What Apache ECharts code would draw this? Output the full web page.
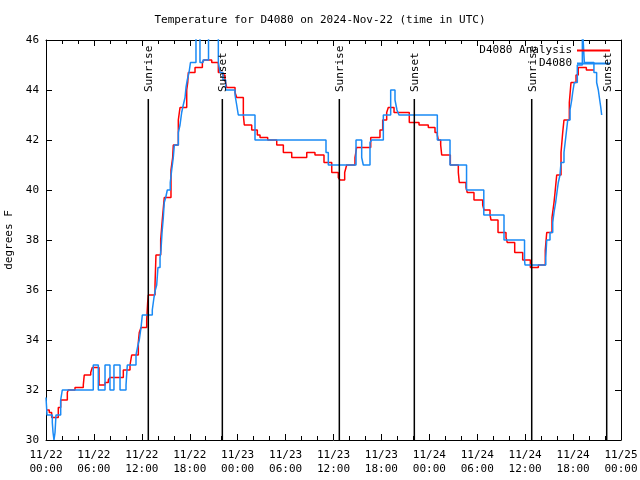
<!DOCTYPE html>
<html>
<head>
<meta charset="utf-8">
<script src="https://cdn.jsdelivr.net/npm/echarts@6/dist/echarts.min.js"></script>
<style>html,body{margin:0;padding:0;background:#fff}#c{width:640px;height:480px}</style>
</head>
<body>
<div id="c"></div>
<script>
// Hours since 2024-11-22 00:00 UTC
const xTickLabels = ['11/22\n00:00','11/22\n06:00','11/22\n12:00','11/22\n18:00','11/23\n00:00','11/23\n06:00','11/23\n12:00','11/23\n18:00','11/24\n00:00','11/24\n06:00','11/24\n12:00','11/24\n18:00','11/25\n00:00'];

const analysisHours = [0.00,0.41,0.71,1.54,1.84,2.67,2.79,3.63,4.67,4.79,5.60,5.80,6.64,7.39,7.80,8.01,9.68,10.52,10.73,11.56,11.68,11.90,12.61,12.73,12.81,13.65,13.77,14.36,14.56,14.81,15.65,15.86,15.94,16.57,16.78,17.62,17.75,17.82,18.66,19.58,19.79,20.75,21.58,22.13,22.41,22.63,23.67,23.88,24.71,24.83,25.76,26.46,26.80,27.76,28.89,29.72,30.77,31.81,32.65,33.68,34.81,35.78,36.60,36.81,37.40,37.65,38.69,38.90,40.66,41.82,42.16,42.66,42.86,43.58,45.49,46.71,47.87,48.71,49.00,49.12,49.42,49.55,50.63,51.63,51.75,52.59,52.75,53.59,54.68,54.85,55.60,55.72,56.60,57.60,57.76,58.69,59.69,60.65,61.65,62.52,62.70,63.36,63.61,63.74,63.95,64.49,64.70,64.86,65.53,65.74,66.37,66.65,67.66,68.62];
const analysisTemps = [31.2,31.1,30.9,31.3,31.6,31.9,32.0,32.1,32.2,32.6,32.7,32.9,32.2,32.3,32.4,32.5,32.8,33.0,33.4,33.9,34.3,34.5,34.8,35.5,35.8,36.2,37.4,38.0,38.8,39.7,40.8,41.3,41.8,42.8,43.3,44.0,44.3,44.7,44.9,45.1,45.2,45.1,44.7,44.6,44.4,44.1,43.9,43.7,43.0,42.6,42.4,42.2,42.1,42.0,41.8,41.5,41.3,41.3,41.5,41.4,41.1,40.7,40.5,40.4,40.7,41.0,41.3,41.7,42.1,42.4,42.8,43.1,43.3,43.1,42.7,42.6,42.5,42.3,42.2,42.0,41.8,41.4,41.0,40.7,40.3,40.1,39.9,39.6,39.4,39.2,39.0,38.8,38.3,38.1,37.9,37.5,37.2,36.9,37.0,37.6,38.3,38.9,39.5,39.9,40.6,41.5,42.3,42.8,43.5,44.3,44.6,44.9,44.8,44.8];

const stationHours = [0.00,0.13,0.79,0.88,1.00,1.13,1.25,1.84,2.04,5.92,6.55,7.39,8.01,8.51,9.27,10.02,10.18,11.27,11.52,11.68,11.90,12.06,13.31,13.52,13.69,13.86,14.02,14.28,14.40,14.53,14.69,14.81,14.99,15.19,15.56,15.74,15.94,16.07,16.57,16.78,16.99,17.19,17.41,17.53,17.69,17.91,18.09,18.78,19.28,19.66,20.35,21.58,21.79,22.16,22.50,23.67,23.88,24.08,26.17,35.06,35.35,38.82,39.53,39.73,40.57,40.78,42.24,43.16,43.70,43.95,44.20,49.00,50.59,52.66,54.82,57.35,59.92,59.98,62.58,62.70,63.11,63.45,63.61,63.82,64.02,64.15,64.36,64.49,64.86,65.08,65.33,65.62,65.83,65.95,66.15,66.53,67.16,67.41,68.61,68.95,69.16,69.29,69.47,69.58,69.62];
const stationTemps = [31.7,31.0,30.7,30.3,30.0,30.3,31.0,31.6,32.0,33.0,32.0,33.0,32.0,33.0,32.0,32.2,33.0,33.4,33.8,34.0,34.5,35.0,35.2,35.7,36.0,36.2,36.9,37.3,37.6,38.3,38.9,39.5,39.7,40.0,40.3,40.8,41.3,41.8,42.3,42.6,43.1,43.4,43.7,44.1,44.4,44.7,45.1,46.6,45.1,45.2,46.6,45.1,44.7,44.4,44.0,43.8,43.4,43.0,42.0,41.5,41.0,42.0,41.3,41.0,41.9,42.0,43.0,44.0,43.6,43.2,43.0,42.0,41.0,40.0,39.0,38.0,37.2,37.0,37.3,38.0,38.3,38.7,39.1,39.5,40.0,40.3,40.6,41.1,41.5,42.1,42.8,43.2,43.6,43.9,44.3,45.0,46.6,45.1,44.7,44.3,44.0,43.7,43.3,43.0,43.0];

const sunHours = [12.81, 22.08, 36.73, 46.12, 60.82, 70.21];
const sunLabels = ['Sunrise','Sunset','Sunrise','Sunset','Sunrise','Sunset'];

const FONT = 'DejaVu Sans Mono';
const chart = echarts.init(document.getElementById('c'), null, {renderer:'canvas'});
const zip = (a, b) => a.map((v, i) => [v, b[i]]);

const tickCommon = {show:true, inside:true, length:6, lineStyle:{color:'#000', width:1}};
const minorCommon = {show:true, splitNumber:3, length:4, lineStyle:{color:'#000', width:1}};

chart.setOption({
  animation:false,
  backgroundColor:'#fff',
  title:{text:'Temperature for D4080 on 2024-Nov-22 (time in UTC)', left:'center', top:10,
    textStyle:{fontFamily:FONT, fontSize:11, fontWeight:'normal', color:'#000'}},
  legend:{orient:'vertical', right:30, top:44, align:'right', itemGap:0, itemWidth:33, itemHeight:2,
    icon:'rect', data:['D4080 Analysis','D4080'], padding:0,
    textStyle:{fontFamily:FONT, fontSize:11, color:'#000', lineHeight:13}},
  grid:{left:46, right:19, top:40, bottom:40, show:false, containLabel:false, outerBoundsMode:'none'},
  xAxis:[
    {type:'value', min:0, max:72, interval:6, position:'bottom',
     axisLine:{show:true, onZero:false, lineStyle:{color:'#000', width:1}},
     axisTick:tickCommon, minorTick:minorCommon, splitLine:{show:false}, minorSplitLine:{show:false},
     axisLabel:{fontFamily:FONT, fontSize:11, color:'#000', lineHeight:14, margin:8,
       formatter:(v)=>xTickLabels[Math.round(v/6)]}},
    {type:'value', min:0, max:72, interval:6, position:'top',
     axisLine:{show:true, onZero:false, lineStyle:{color:'#000', width:1}},
     axisTick:tickCommon, minorTick:minorCommon, splitLine:{show:false}, axisLabel:{show:false}}
  ],
  yAxis:[
    {type:'value', min:30, max:46, interval:2, position:'left',
     name:'degrees F', nameLocation:'middle', nameGap:31, nameRotate:90,
     nameTextStyle:{fontFamily:FONT, fontSize:11, color:'#000'},
     axisLine:{show:true, onZero:false, lineStyle:{color:'#000', width:1}},
     axisTick:tickCommon, splitLine:{show:false},
     axisLabel:{fontFamily:FONT, fontSize:11, color:'#000', margin:7}},
    {type:'value', min:30, max:46, interval:2, position:'right',
     axisLine:{show:true, onZero:false, lineStyle:{color:'#000', width:1}},
     axisTick:tickCommon, splitLine:{show:false}, axisLabel:{show:false}}
  ],
  series:[
    {name:'D4080 Analysis', type:'line', step:'end', showSymbol:false, symbol:'none',
     data:zip(analysisHours, analysisTemps), clip:true, z:2,
     lineStyle:{color:'#ff0000', width:1.5}, itemStyle:{color:'#ff0000'}},
    {name:'D4080', type:'line', step:'end', showSymbol:false, symbol:'none',
     data:zip(stationHours, stationTemps), clip:true, z:3,
     lineStyle:{color:'#1a8af5', width:1.5}, itemStyle:{color:'#1a8af5'}},
    {name:'sun', type:'custom', z:4, clip:false,
     data:sunHours.map(h=>[h, 30]),
     encode:{x:0, y:1},
     renderItem:function(params, api){
       const h = api.value(0);
       const top = api.coord([h, 43.64]);
       const bot = api.coord([h, 30]);
       return {type:'group', children:[
         {type:'line', shape:{x1:top[0], y1:top[1], x2:bot[0], y2:bot[1]},
          style:{stroke:'#000', lineWidth:1.5}},
         {type:'text', x:top[0]+1, y:top[1]-7, rotation:Math.PI/2,
          style:{text:sunLabels[params.dataIndex], font:'11px "'+FONT+'"', fill:'#000',
                 align:'left', verticalAlign:'middle'}}
       ]};
     }}
  ]
});
</script>
</body>
</html>
